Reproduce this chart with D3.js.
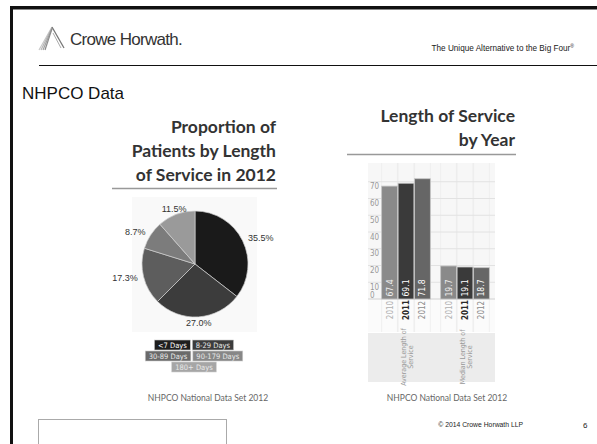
<!DOCTYPE html>
<html><head><meta charset="utf-8">
<script src="https://cdnjs.cloudflare.com/ajax/libs/d3/7.8.5/d3.min.js"></script>
<style>
html,body{margin:0;padding:0;background:#fff;}
svg{display:block;}
</style></head>
<body>
<svg id="c" width="597" height="444"></svg>
<script>
// ---- data ----
const pieCategories = ["<7 Days", "8-29 Days", "30-89 Days", "90-179 Days", "180+ Days"];
const pieValues = [35.5, 27.0, 17.3, 8.7, 11.5];
const pieColors = ["#1a1a1a", "#3c3c3c", "#5d5d5d", "#7c7c7c", "#9a9a9a"];
const legendRows = [[0, 1], [2, 3], [4]];

const barGroups = ["Average Length of Service", "Median Length of Service"];
const barGroupLines = [["Average Length of", "Service"], ["Median Length of", "Service"]];
const barYears = ["2010", "2011", "2012"];
const averageValues = [67.4, 69.1, 71.8];
const medianValues = [19.7, 19.1, 18.7];
const yTicks = [0, 10, 20, 30, 40, 50, 60, 70];
const yearColors = ["#8a8a8a", "#3a3a3a", "#666666"];
const yearLabelColors = ["#b0b0b0", "#2a2a2a", "#8a8a8a"];

const svg = d3.select("#c");
const narrow = "'Liberation Sans Narrow','DejaVu Sans Condensed','Roboto Condensed',sans-serif";
const sans = "'Liberation Sans',Arial,sans-serif";
const titleFont = "Lato,'Open Sans',sans-serif";

// ---- slide frame ----
svg.append("rect").attr("x", 10).attr("y", 6).attr("width", 587).attr("height", 3).attr("fill", "#111");
svg.append("rect").attr("x", 10).attr("y", 9).attr("width", 587).attr("height", 1).attr("fill", "#888");
svg.append("rect").attr("x", 10).attr("y", 6).attr("width", 3).attr("height", 438).attr("fill", "#111");
svg.append("line").attr("x1", 39).attr("x2", 597).attr("y1", 65.5).attr("y2", 65.5).attr("stroke", "#111").attr("stroke-width", 1.2);

// logo
const logo = svg.append("g");
[[0, "#c8c8c8"], [2, "#b5b5b5"], [4, "#a0a0a0"], [6, "#8c8c8c"]].forEach(([o, c]) => {
  logo.append("line").attr("x1", 52).attr("y1", 27 + o * 0.3).attr("x2", 39 + o).attr("y2", 50)
    .attr("stroke", c).attr("stroke-width", 1.2);
});
logo.append("line").attr("x1", 52).attr("y1", 27).attr("x2", 64).attr("y2", 48)
  .attr("stroke", "#777").attr("stroke-width", 1.3);
logo.append("line").attr("x1", 53).attr("y1", 33).attr("x2", 61).attr("y2", 48)
  .attr("stroke", "#aaa").attr("stroke-width", 1);

svg.append("text").attr("x", 70).attr("y", 45).text("Crowe Horwath.")
  .attr("font-family", sans).attr("font-size", 17).attr("fill", "#333").attr("letter-spacing", -0.7);
const tag = svg.append("text").attr("x", 574).attr("y", 51).attr("text-anchor", "end")
  .attr("font-family", sans).attr("font-size", 8.2).attr("fill", "#222");
tag.append("tspan").text("The Unique Alternative to the Big Four");
tag.append("tspan").text("®").attr("font-size", 5).attr("dy", -3);

svg.append("text").attr("x", 22).attr("y", 99).text("NHPCO Data")
  .attr("font-family", sans).attr("font-size", 17).attr("fill", "#111");

// ---- pie chart ----
const pieTitle = ["Proportion of", "Patients by Length", "of Service in 2012"];
pieTitle.forEach((t, i) => {
  svg.append("text").attr("x", 276).attr("y", 133 + i * 24).attr("text-anchor", "end").text(t)
    .attr("font-family", titleFont).attr("font-weight", "bold").attr("font-size", 17.5).attr("fill", "#333");
});
svg.append("line").attr("x1", 112).attr("x2", 277).attr("y1", 188.5).attr("y2", 188.5)
  .attr("stroke", "#999").attr("stroke-width", 1.6);

svg.append("rect").attr("x", 132).attr("y", 197).attr("width", 125).attr("height", 135).attr("fill", "#f9f9f9");

const cx = 195, cy = 264, r = 53;
const pie = d3.pie().sort(null).value(d => d)(pieValues);
const arc = d3.arc().innerRadius(0).outerRadius(r);
const labelArc = d3.arc().innerRadius(59).outerRadius(59);
const pg = svg.append("g").attr("transform", `translate(${cx},${cy})`);
pg.selectAll("path").data(pie).join("path").attr("d", arc)
  .attr("fill", (d, i) => pieColors[i]).attr("stroke", "#d0d0d0").attr("stroke-width", 0.7);
pg.selectAll("text").data(pie).join("text")
  .attr("transform", d => `translate(${labelArc.centroid(d)})`)
  .attr("text-anchor", d => {
    const xx = labelArc.centroid(d)[0];
    return xx > 25 ? "start" : (xx < -25 ? "end" : "middle");
  })
  .attr("dy", "0.35em")
  .attr("font-family", sans).attr("font-size", 9).attr("fill", "#333")
  .text(d => d.value.toFixed(1) + "%");

// legend
const legendColors = ["#1e1e1e", "#3c3c3c", "#6a6a6a", "#878787", "#a6a6a6"];
const lg = svg.append("g");
legendRows.forEach((row, ri) => {
  const items = row.map(i => {
    const g = lg.append("g");
    const t = g.append("text").text(pieCategories[i]).attr("font-family", narrow)
      .attr("font-size", 7.5).attr("fill", i === 0 ? "#fff" : "#e8e8e8");
    const w = t.node().getComputedTextLength() + 7;
    return {g, t, w, i};
  });
  const gap = 2;
  const total = d3.sum(items, d => d.w) + gap * (items.length - 1);
  let x = 194 - total / 2;
  const y = 340 + ri * 11;
  items.forEach(it => {
    it.g.insert("rect", "text").attr("x", x).attr("y", y).attr("width", it.w).attr("height", 10)
      .attr("fill", legendColors[it.i]).attr("stroke", "#ccc").attr("stroke-width", 0.6);
    it.t.attr("x", x + it.w / 2).attr("y", y + 7.6).attr("text-anchor", "middle");
    x += it.w + gap;
  });
});

svg.append("text").attr("x", 208).attr("y", 401).attr("text-anchor", "middle").text("NHPCO National Data Set 2012")
  .attr("font-family", titleFont).attr("font-size", 8.5).attr("fill", "#666");

// ---- bar chart ----
const barTitle = ["Length of Service", "by Year"];
barTitle.forEach((t, i) => {
  svg.append("text").attr("x", 515).attr("y", 122 + i * 24).attr("text-anchor", "end").text(t)
    .attr("font-family", titleFont).attr("font-weight", "bold").attr("font-size", 17.5).attr("fill", "#333");
});
svg.append("line").attr("x1", 347).attr("x2", 516).attr("y1", 154.5).attr("y2", 154.5)
  .attr("stroke", "#999").attr("stroke-width", 1.6);

const y = d3.scaleLinear().domain([0, 80]).range([299, 165]);
const x0 = d3.scaleBand().domain(barGroups).range([376, 494]);
const x1 = d3.scaleBand().domain(barYears).range([5, 55]).padding(0.04);
const series = [averageValues, medianValues];

// backgrounds
svg.append("rect").attr("x", 368).attr("y", 163).attr("width", 127).attr("height", 136).attr("fill", "#f7f7f7");
svg.append("rect").attr("x", 368).attr("y", 299).attr("width", 127).attr("height", 33).attr("fill", "#fbfbfb");
svg.append("rect").attr("x", 368).attr("y", 333).attr("width", 127).attr("height", 49).attr("fill", "#ececec");

// vertical faint lines
const vlines = [];
barGroups.forEach(g => barYears.forEach(yr => {
  vlines.push(x0(g) + x1(yr));
  vlines.push(x0(g) + x1(yr) + x1.bandwidth());
}));
svg.append("g").selectAll("line").data(vlines).join("line")
  .attr("x1", d => d).attr("x2", d => d).attr("y1", 163).attr("y2", 332)
  .attr("stroke", "#ececec").attr("stroke-width", 0.8);

// gridlines
svg.append("g").selectAll("line").data(yTicks.filter(t => t > 0)).join("line")
  .attr("x1", 368).attr("x2", 495).attr("y1", d => y(d)).attr("y2", d => y(d))
  .attr("stroke", "#e2e2e2").attr("stroke-width", 1);
svg.append("line").attr("x1", 368).attr("x2", 495).attr("y1", y(0)).attr("y2", y(0))
  .attr("stroke", "#d0d0d0").attr("stroke-width", 1);

// y tick labels
svg.append("g").selectAll("text").data(yTicks).join("text")
  .attr("x", 370).attr("y", d => d === 0 ? y(d) - 1.5 : y(d) + 7.5)
  .attr("font-family", narrow).attr("font-size", 8).attr("fill", "#999").text(d => d);

// bars
barGroups.forEach((g, gi) => {
  const gg = svg.append("g").attr("transform", `translate(${x0(g)},0)`);
  gg.selectAll("rect").data(series[gi]).join("rect")
    .attr("x", (d, i) => x1(barYears[i])).attr("width", x1.bandwidth())
    .attr("y", d => y(d)).attr("height", d => y(0) - y(d))
    .attr("fill", (d, i) => yearColors[i]).attr("stroke", "#c4c4c4").attr("stroke-width", 0.8);
  gg.selectAll("text.val").data(series[gi]).join("text").attr("class", "val")
    .attr("transform", (d, i) => `translate(${x1(barYears[i]) + x1.bandwidth() / 2 + 3},288) rotate(-90)`)
    .attr("text-anchor", "middle").attr("font-family", narrow).attr("font-size", 8.5)
    .attr("fill", (d, i) => i === 0 ? "#eee" : "#fff").text(d => d.toFixed(1));
  gg.selectAll("text.yr").data(barYears).join("text").attr("class", "yr")
    .attr("transform", yr => `translate(${x1(yr) + x1.bandwidth() / 2 + 3},310) rotate(-90)`)
    .attr("text-anchor", "middle").attr("font-family", narrow).attr("font-size", 8)
    .attr("font-weight", (yr, i) => i === 1 ? "bold" : "normal")
    .attr("fill", (yr, i) => yearLabelColors[i]).text(yr => yr);
  const cxg = x0(g) + x0.bandwidth() / 2 - 2;
  barGroupLines[gi].forEach((ln, li) => {
    svg.append("text").attr("transform", `translate(${cxg + li * 7 + 2},357) rotate(-90)`)
      .attr("text-anchor", "middle").attr("font-family", narrow).attr("font-size", 7)
      .attr("fill", "#999").text(ln);
  });
});

svg.append("text").attr("x", 447).attr("y", 401).attr("text-anchor", "middle").text("NHPCO National Data Set 2012")
  .attr("font-family", titleFont).attr("font-size", 8.5).attr("fill", "#666");

// ---- footer ----
svg.append("rect").attr("x", 38.5).attr("y", 419.5).attr("width", 188).attr("height", 30)
  .attr("fill", "#fff").attr("stroke", "#aaa").attr("stroke-width", 1);
svg.append("text").attr("x", 523).attr("y", 427).attr("text-anchor", "end").text("© 2014 Crowe Horwath LLP")
  .attr("font-family", sans).attr("font-size", 6.8).attr("fill", "#222");
svg.append("text").attr("x", 583).attr("y", 428).text("6")
  .attr("font-family", sans).attr("font-size", 8).attr("fill", "#222");
</script>
</body></html>
